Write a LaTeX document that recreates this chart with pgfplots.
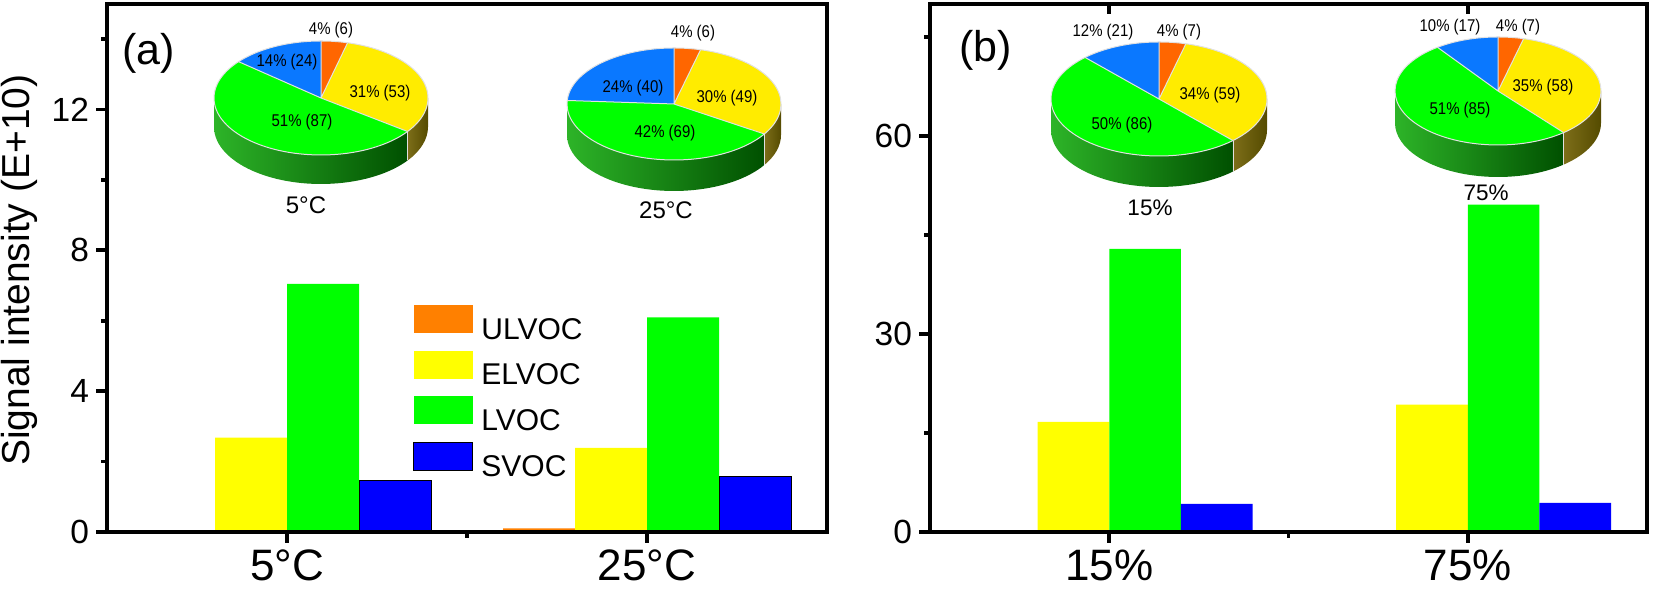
\documentclass[border=0pt]{standalone}
\usepackage{pgfplots}
\pgfplotsset{compat=1.18}
\usepackage{fontspec}
\setmainfont{Liberation Sans}
\newfontfamily\narrowfont[FakeStretch=0.88]{Liberation Sans}

\definecolor{barO}{RGB}{255,128,0}
\definecolor{barY}{RGB}{255,255,0}
\definecolor{barG}{RGB}{0,255,0}
\definecolor{barB}{RGB}{0,0,255}
\definecolor{pieO}{RGB}{255,102,0}
\definecolor{pieY}{RGB}{255,236,0}
\definecolor{pieG}{RGB}{0,255,0}
\definecolor{pieB}{RGB}{10,120,255}
\definecolor{sideGL}{RGB}{45,180,40}
\definecolor{sideGR}{RGB}{0,80,0}
\definecolor{sideYL}{RGB}{125,110,25}
\definecolor{sideYR}{RGB}{85,75,0}
\definecolor{rim}{RGB}{225,225,225}

\pgfplotsset{
  panel/.style={
    scale only axis, height=264pt,
    axis on top,
    axis line style={line width=1.9pt},
    every tick/.style={black, line width=1.9pt},
    major tick length=5.5pt, minor tick length=3pt,
    tick align=outside, xtick pos=bottom, ytick pos=left,
    xmin=0.5, xmax=2.5, ymin=0,
    xtick={1,2}, minor xtick={1.5},
    x tick label style={font=\fontsize{22}{24}\selectfont},
    y tick label style={font=\fontsize{16.75}{18}\selectfont, /pgf/number format/assume math mode=true},
  },
}

% cx cy rx ry depth  pO pY pG pB   (pixel units, y measured from top)
\newcommand{\drawpie}[9]{%
\begin{scope}[shift={({#1*0.5pt},{(597-#2)*0.5pt})}, x=0.5pt, y=0.5pt]
\pgfmathsetmacro\aA{90-3.6*#6}
\pgfmathsetmacro\aB{\aA-3.6*#7}
\pgfmathsetmacro\aC{\aB-3.6*#8}
\shade[left color=sideGL, right color=sideGR] (-180:#3 and #4) arc[start angle=-180, end angle=\aB, x radius=#3, y radius=#4] -- ++(0,-#5) arc[start angle=\aB, end angle=-180, x radius=#3, y radius=#4] -- cycle;
\shade[left color=sideYL, right color=sideYR] (\aB:#3 and #4) arc[start angle=\aB, end angle=0, x radius=#3, y radius=#4] -- ++(0,-#5) arc[start angle=0, end angle=\aB, x radius=#3, y radius=#4] -- cycle;
\fill[pieO] (0,0) -- (90:#3 and #4) arc[start angle=90, end angle=\aA, x radius=#3, y radius=#4] -- cycle;
\fill[pieY] (0,0) -- (\aA:#3 and #4) arc[start angle=\aA, end angle=\aB, x radius=#3, y radius=#4] -- cycle;
\fill[pieG] (0,0) -- (\aB:#3 and #4) arc[start angle=\aB, end angle=\aC, x radius=#3, y radius=#4] -- cycle;
\fill[pieB] (0,0) -- (\aC:#3 and #4) arc[start angle=\aC, end angle=-270, x radius=#3, y radius=#4] -- cycle;
\draw[rim, line width=0.5pt] (0,0) ellipse[x radius=#3, y radius=#4];
\draw[rim, line width=0.5pt] (0,0) -- (90:#3 and #4) (0,0) -- (\aA:#3 and #4) (0,0) -- (\aB:#3 and #4) (0,0) -- (\aC:#3 and #4);
\draw[rim, line width=0.4pt] (\aB:#3 and #4) -- ++(0,-#5);
\end{scope}}

\begin{document}
\begin{tikzpicture}
\path[use as bounding box] (0,0) rectangle (827pt,298.5pt);

% ---------------- panel (a) ----------------
\begin{axis}[panel, at={(53.5pt,32.5pt)}, anchor=south west, width=360pt,
  ymax=15, ytick={0,4,8,12}, minor ytick={2,6,10,14},
  xticklabels={5°C,25°C},
  ylabel={Signal intensity (E+10)},
  ylabel style={font=\fontsize{19.5}{21}\selectfont, at={(axis description cs:-0.121,0.496)}, anchor=center},
  legend style={draw=none, fill=none, at={(axis description cs:0.425,0.43)}, anchor=north west,
    inner sep=0pt, font=\fontsize{15}{16}\selectfont, row sep=4.35pt,
    nodes={inner sep=0pt}, column sep=4pt},
  legend cell align=left,
  legend image code/.code={\fill[#1] (0pt,-1.6pt) rectangle (29.5pt,12.4pt);},
]
\addplot[ybar, bar width=0.2, bar shift=-0.3, fill=barO, draw=none] coordinates {(1,0) (2,0.1)};
\addplot[ybar, bar width=0.2, bar shift=-0.1, fill=barY, draw=none] coordinates {(1,2.68) (2,2.39)};
\addplot[ybar, bar width=0.2, bar shift=0.1, fill=barG, draw=none] coordinates {(1,7.05) (2,6.10)};
\addplot[ybar, bar width=0.2, bar shift=0.3, fill=barB, draw=black, line width=0.5pt] coordinates {(1,1.46) (2,1.59)};
\legend{ULVOC,ELVOC,LVOC,SVOC}
\node[font=\fontsize{21.5}{23}\selectfont] at (rel axis cs:0.058,0.907) {(a)};
\end{axis}

% ---------------- panel (b) ----------------
\begin{axis}[panel, at={(465pt,32.5pt)}, anchor=south west, width=358.5pt,
  ymax=80, ytick={0,30,60}, minor ytick={15,45,75},
  xticklabels={15\%,75\%},
]
\addplot[ybar, bar width=0.2, bar shift=-0.3, fill=barO, draw=none] coordinates {(1,0) (2,0)};
\addplot[ybar, bar width=0.2, bar shift=-0.1, fill=barY, draw=none] coordinates {(1,16.7) (2,19.3)};
\addplot[ybar, bar width=0.2, bar shift=0.1, fill=barG, draw=none] coordinates {(1,42.9) (2,49.6)};
\addplot[ybar, bar width=0.2, bar shift=0.3, fill=barB, draw=none] coordinates {(1,4.25) (2,4.4)};
\draw[line width=1.9pt] (axis cs:1,80) -- ([yshift=-5pt]axis cs:1,80);
\draw[line width=1.9pt] (axis cs:2,80) -- ([yshift=-5pt]axis cs:2,80);
\node[font=\fontsize{21.5}{23}\selectfont] at (rel axis cs:0.078,0.913) {(b)};
\end{axis}

% ---------------- pie insets ----------------
\drawpie{321}{98}{107}{57}{29}{4}{31}{51}{14}
\drawpie{674}{104}{107}{56}{31}{4}{30}{42}{24}
\drawpie{1159}{99}{108}{57}{31}{4}{34}{50}{12}
\drawpie{1498}{91}{103}{54}{32}{4}{35}{51}{10}

\begin{scope}[shift={(0,298.5pt)}, x=0.5pt, y=-0.5pt]
\tikzset{pl/.style={font=\narrowfont\fontsize{8.5}{9}\selectfont, inner sep=0pt}}
\node[pl] at (331,30) {4\% (6)};
\node[pl] at (287,62) {14\% (24)};
\node[pl] at (380,93) {31\% (53)};
\node[pl] at (302,122) {51\% (87)};
\node[font=\fontsize{12}{13}\selectfont] at (306,205) {5°C};

\node[pl] at (693,33) {4\% (6)};
\node[pl] at (633,88) {24\% (40)};
\node[pl] at (727,98) {30\% (49)};
\node[pl] at (665,133) {42\% (69)};
\node[font=\fontsize{12}{13}\selectfont] at (666,210) {25°C};

\node[pl] at (1103,32) {12\% (21)};
\node[pl] at (1179,32) {4\% (7)};
\node[pl] at (1210,95) {34\% (59)};
\node[pl] at (1122,125) {50\% (86)};
\node[font=\fontsize{11.25}{12}\selectfont] at (1150,208) {15\%};

\node[pl] at (1450,27) {10\% (17)};
\node[pl] at (1518,27) {4\% (7)};
\node[pl] at (1543,87) {35\% (58)};
\node[pl] at (1460,110) {51\% (85)};
\node[font=\fontsize{11.25}{12}\selectfont] at (1486,193) {75\%};
\end{scope}
\end{tikzpicture}
\end{document}
